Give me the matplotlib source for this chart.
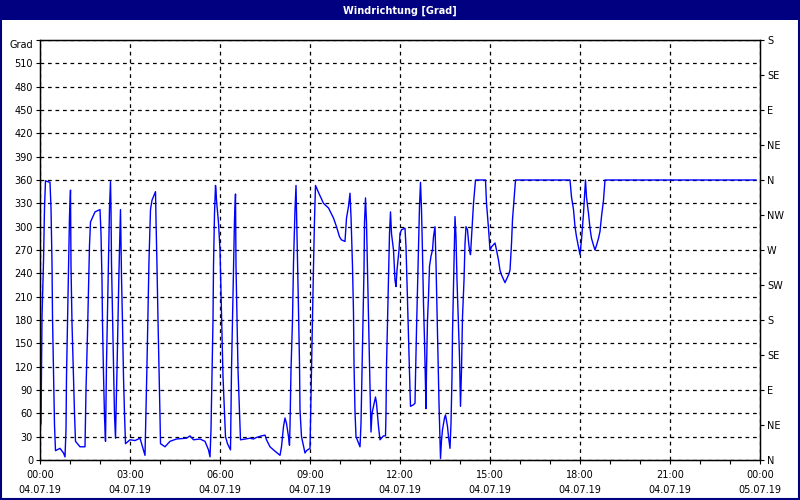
import matplotlib
matplotlib.use("Agg")
import matplotlib.pyplot as plt
from matplotlib.patches import Rectangle
import numpy as np

# wind direction readings, 04.07.19 (minutes after midnight, degrees)
minutes = [0, 2, 4, 7, 9, 11, 15, 20, 22, 24, 25, 27, 29, 31, 40, 47, 50, 52, 53, 55,
           57, 59, 61, 62, 64, 67, 69, 71, 80, 90, 92, 95, 97, 99, 101, 110, 120, 122,
           124, 125, 127, 129, 131, 133, 135, 137, 139, 141, 142, 143, 145, 147, 149,
           151, 152, 154, 156, 158, 160, 161, 163, 165, 167, 169, 171, 180, 190, 200,
           205, 210, 212, 214, 216, 218, 221, 224, 231, 232, 234, 236, 238, 240, 241,
           250, 260, 273, 293, 300, 307, 320, 330, 337, 340, 342, 344, 346, 347, 349,
           351, 352, 353, 355, 357, 360, 362, 364, 366, 369, 371, 375, 381, 383, 385,
           387, 389, 391, 392, 394, 396, 399, 401, 410, 420, 427, 433, 443, 450, 453,
           460, 467, 480, 483, 487, 490, 493, 497, 499, 500, 502, 505, 507, 510, 512,
           513, 515, 517, 519, 520, 523, 530, 533, 540, 541, 543, 545, 547, 549, 551,
           557, 567, 577, 587, 593, 599, 603, 610, 613, 617, 620, 622, 625, 627, 628,
           630, 632, 640, 642, 644, 646, 648, 649, 651, 653, 655, 657, 659, 661, 662,
           664, 667, 671, 673, 677, 680, 687, 691, 692, 693, 695, 697, 699, 701, 703,
           707, 710, 712, 714, 716, 718, 720, 723, 730, 732, 734, 736, 738, 740, 741,
           747, 750, 751, 753, 755, 757, 759, 761, 763, 765, 767, 769, 771, 772, 773,
           775, 777, 779, 782, 785, 787, 790, 792, 794, 796, 798, 800, 801, 803, 805,
           809, 811, 815, 817, 820, 822, 824, 825, 827, 829, 830, 832, 834, 837, 839,
           841, 843, 845, 848, 850, 852, 855, 857, 859, 861, 864, 867, 871, 891, 893,
           897, 900, 903, 910, 913, 917, 920, 923, 930, 937, 940, 943, 945, 948, 951,
           1060, 1063, 1067, 1070, 1073, 1077, 1080, 1083, 1087, 1090, 1091, 1093, 1097,
           1100, 1103, 1107, 1110, 1113, 1117, 1120, 1123, 1127, 1130, 1432]
degrees = [40, 47, 184, 255, 324, 359, 358, 357, 324, 253, 184, 116, 45, 12, 15, 9, 4, 39, 107, 176,
           244, 313, 347, 249, 176, 107, 60, 24, 17, 17, 90, 163, 220, 276, 306, 319, 322, 291,
           231, 176, 111, 56, 24, 124, 193, 257, 324, 358, 322, 253, 189, 124, 58,
           28, 60, 116, 180, 244, 294, 322, 236, 176, 107, 60, 21, 26, 25, 28,
           17, 6, 64, 124, 193, 257, 322, 334, 345, 309, 249, 180, 120, 56, 21,
           17, 24, 27, 28, 31, 26, 27, 24, 13, 4, 39, 107, 180, 249, 317,
           353, 347, 334, 319, 305, 270, 214, 163, 107, 60, 30, 21, 13, 116, 180,
           244, 309, 342, 249, 180, 116, 60, 26, 27, 28, 27, 29, 31, 32, 26,
           17, 13, 6, 17, 43, 54, 47, 30, 19, 43, 116, 180, 253, 322, 353,
           322, 257, 193, 124, 64, 30, 9, 12, 15, 47, 116, 184, 249, 309, 353,
           344, 330, 324, 311, 300, 287, 283, 281, 311, 326, 343, 313, 249, 189, 124,
           62, 30, 17, 47, 116, 180, 244, 305, 337, 305, 244, 184, 124, 69, 36,
           60, 69, 81, 73, 43, 26, 31, 31, 60, 120, 176, 231, 291, 319, 291,
           270, 231, 223, 244, 257, 270, 291, 296, 298, 274, 227, 180, 133, 90, 69,
           71, 73, 107, 167, 219, 274, 326, 357, 322, 266, 201, 154, 94, 66, 116,
           180, 210, 249, 262, 270, 287, 300, 253, 193, 133, 73, 26, 2, 25, 39,
           54, 58, 43, 30, 15, 47, 107, 163, 223, 283, 313, 287, 231, 171, 133,
           69, 116, 184, 231, 278, 300, 296, 281, 270, 264, 296, 330, 360, 360, 330,
           298, 270, 274, 279, 270, 257, 244, 238, 228, 238, 244, 278, 309, 334, 360,
           360, 338, 322, 300, 287, 274, 264, 283, 317, 351, 360, 338, 317,
           298, 285, 276, 270, 276, 285, 294, 313, 334, 360, 360]

left_ticks = list(range(0, 511, 30))
left_labels = [str(v) for v in left_ticks]
compass = ["N", "NE", "E", "SE", "S", "SW", "W", "NW", "N", "NE", "E", "SE", "S"]
time_labels = ["00:00", "03:00", "06:00", "09:00", "12:00", "15:00", "18:00", "21:00", "00:00"]
date_labels = ["04.07.19"] * 8 + ["05.07.19"]

navy = "#000080"
plt.rcParams["font.family"] = ["DejaVu Sans"]
plt.rcParams["font.size"] = 7

fig = plt.figure(figsize=(8, 5), dpi=100, facecolor="white")
# title bar and frame
fig.patches.append(Rectangle((0, 0.96), 1, 0.04, transform=fig.transFigure,
                             facecolor=navy, edgecolor="none", zorder=0))
fig.patches.append(Rectangle((0.001, 0.002), 0.998, 0.996, transform=fig.transFigure,
                             facecolor="none", edgecolor=navy, linewidth=1.5, zorder=1))
fig.text(0.5, 0.979, "Windrichtung [Grad]", color="white", fontweight="bold",
         ha="center", va="center", fontsize=7)

ax = fig.add_axes([0.05, 0.08, 0.90, 0.84])
hours = np.array(minutes) / 60.0
ax.plot(hours, degrees, color="#0000ff", linewidth=1, zorder=3)

ax.set_xlim(0, 24)
ax.set_ylim(0, 540)
ax.set_yticks(left_ticks + [540])
ax.set_yticklabels(left_labels + ["Grad"])
ax.get_yticklabels()[-1].set_va("top")
ax.set_xticks(np.arange(0, 25, 3))
ax.set_xticklabels([t + "\n" + d for t, d in zip(time_labels, date_labels)], linespacing=1.6)
ax.set_xticks(np.arange(0, 25, 1), minor=True)
ax.tick_params(axis="both", which="both", direction="out", length=3, width=0.8,
               pad=2, colors="black")
ax.tick_params(axis="x", pad=4)

ax.grid(True, which="major", color="black", linestyle=(0, (3, 3)), linewidth=0.9)
ax.set_axisbelow(True)
for s in ax.spines.values():
    s.set_color("black")
    s.set_linewidth(1)

ax2 = ax.twinx()
ax2.set_ylim(0, 540)
ax2.set_yticks(np.arange(0, 541, 45))
ax2.set_yticklabels(compass)
ax2.tick_params(axis="y", direction="out", length=3, width=0.8, pad=2)

fig.savefig("out.png", dpi=100, facecolor="white")
